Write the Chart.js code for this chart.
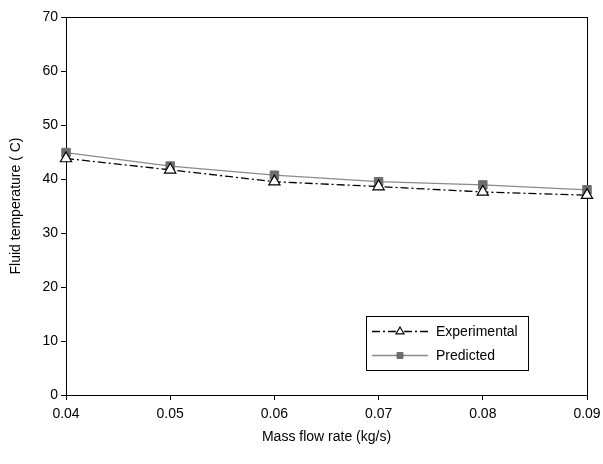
<!DOCTYPE html>
<html>
<head>
<meta charset="utf-8">
<script src="https://cdn.jsdelivr.net/npm/chart.js@4/dist/chart.umd.min.js"></script>
<style>
  html, body { margin: 0; padding: 0; background: #fff; }
  #wrap { width: 603px; height: 464px; position: relative; }
</style>
</head>
<body>
<div id="wrap"><canvas id="flowChart" width="603" height="464"></canvas></div>
<script>
// ---- DATA ----
const flowRates = [0.04, 0.05, 0.06, 0.07, 0.08, 0.09];
const experimental = [43.8, 41.7, 39.5, 38.6, 37.6, 37.0];
const predicted = [44.9, 42.4, 40.7, 39.5, 38.9, 38.0];
const seriesNames = ['Experimental', 'Predicted'];

const FONT = "'Liberation Sans', Arial, sans-serif";
Chart.defaults.font.family = FONT;
Chart.defaults.color = '#000';

// plot-area frame (Excel style box), drawn under the series
const frame = {
    id: 'frame',
    beforeDatasetsDraw(chart) {
        const { ctx, chartArea: a } = chart;
        ctx.save();
        ctx.strokeStyle = '#000';
        ctx.lineWidth = 1;
        ctx.strokeRect(Math.round(a.left) + 0.5, Math.round(a.top) + 0.5,
            Math.round(a.right - a.left), Math.round(a.bottom - a.top));
        ctx.restore();
    }
};

// legend box inside the plot area, lower right
const boxLegend = {
    id: 'boxLegend',
    afterDraw(chart) {
        const { ctx, chartArea: a } = chart;
        const x = a.left + 300, y = a.top + 299, w = 162, h = 54;
        ctx.save();
        ctx.fillStyle = '#fff';
        ctx.fillRect(x, y, w, h);
        ctx.strokeStyle = '#000';
        ctx.lineWidth = 1;
        ctx.strokeRect(x + 0.5, y + 0.5, w, h);
        chart.data.datasets.forEach((ds, i) => {
            const cy = y + 15 + i * 24;
            ctx.beginPath();
            ctx.strokeStyle = ds.borderColor;
            ctx.lineWidth = ds.borderWidth;
            ctx.setLineDash(ds.borderDash || []);
            ctx.moveTo(x + 6, cy + 0.5);
            ctx.lineTo(x + 62, cy + 0.5);
            ctx.stroke();
            ctx.setLineDash([]);
            ctx.fillStyle = ds.pointBackgroundColor;
            ctx.strokeStyle = ds.pointBorderColor;
            ctx.lineWidth = ds.pointBorderWidth;
            Chart.helpers.drawPoint(ctx, {
                pointStyle: ds.pointStyle,
                radius: ds.pointRadius * 0.7,
                borderWidth: ds.pointBorderWidth
            }, x + 34, cy + 0.5);
            ctx.fillStyle = '#000';
            ctx.font = '14px ' + FONT;
            ctx.textBaseline = 'middle';
            ctx.fillText(ds.label, x + 70, cy + 1);
        });
        ctx.restore();
    }
};

new Chart(document.getElementById('flowChart'), {
    type: 'line',
    data: {
        datasets: [{
            label: seriesNames[0],
            data: flowRates.map((f, i) => ({ x: f, y: experimental[i] })),
            borderColor: '#000',
            borderWidth: 1.3,
            borderDash: [8, 3, 2, 3],
            pointStyle: 'triangle',
            pointRadius: 6.5,
            pointBackgroundColor: '#fff',
            pointBorderColor: '#000',
            pointBorderWidth: 1.2,
            clip: false,
            tension: 0
        }, {
            label: seriesNames[1],
            data: flowRates.map((f, i) => ({ x: f, y: predicted[i] })),
            borderColor: '#8a8a8a',
            borderWidth: 1.3,
            pointStyle: 'rect',
            pointRadius: 6,
            pointBackgroundColor: '#6e6e6e',
            pointBorderColor: '#6e6e6e',
            pointBorderWidth: 1,
            clip: false,
            tension: 0
        }]
    },
    options: {
        responsive: false,
        animation: false,
        layout: { padding: { top: 17, right: 16, left: 4, bottom: 18 } },
        plugins: {
            legend: { display: false },
            tooltip: { enabled: false }
        },
        scales: {
            x: {
                type: 'linear',
                min: 0.04,
                max: 0.09,
                afterFit: s => { s.height = 51; s.paddingRight = 0; },
                grid: { drawOnChartArea: false, tickLength: 5, color: '#000' },
                border: { color: '#000' },
                ticks: {
                    stepSize: 0.01,
                    padding: 6,
                    font: { size: 14 },
                    callback: v => v.toFixed(2)
                },
                title: {
                    display: true,
                    text: 'Mass flow rate (kg/s)',
                    font: { size: 14 },
                    padding: { top: 4, bottom: 0 }
                }
            },
            y: {
                min: 0,
                max: 70,
                afterFit: s => { s.width = 62; },
                grid: { drawOnChartArea: false, tickLength: 5, color: '#000' },
                border: { color: '#000' },
                ticks: { stepSize: 10, padding: 3, font: { size: 14 } },
                title: {
                    display: true,
                    text: 'Fluid temperature ( C)',
                    font: { size: 14 },
                    padding: { bottom: 6 }
                }
            }
        }
    },
    plugins: [frame, boxLegend]
});
</script>
</body>
</html>
